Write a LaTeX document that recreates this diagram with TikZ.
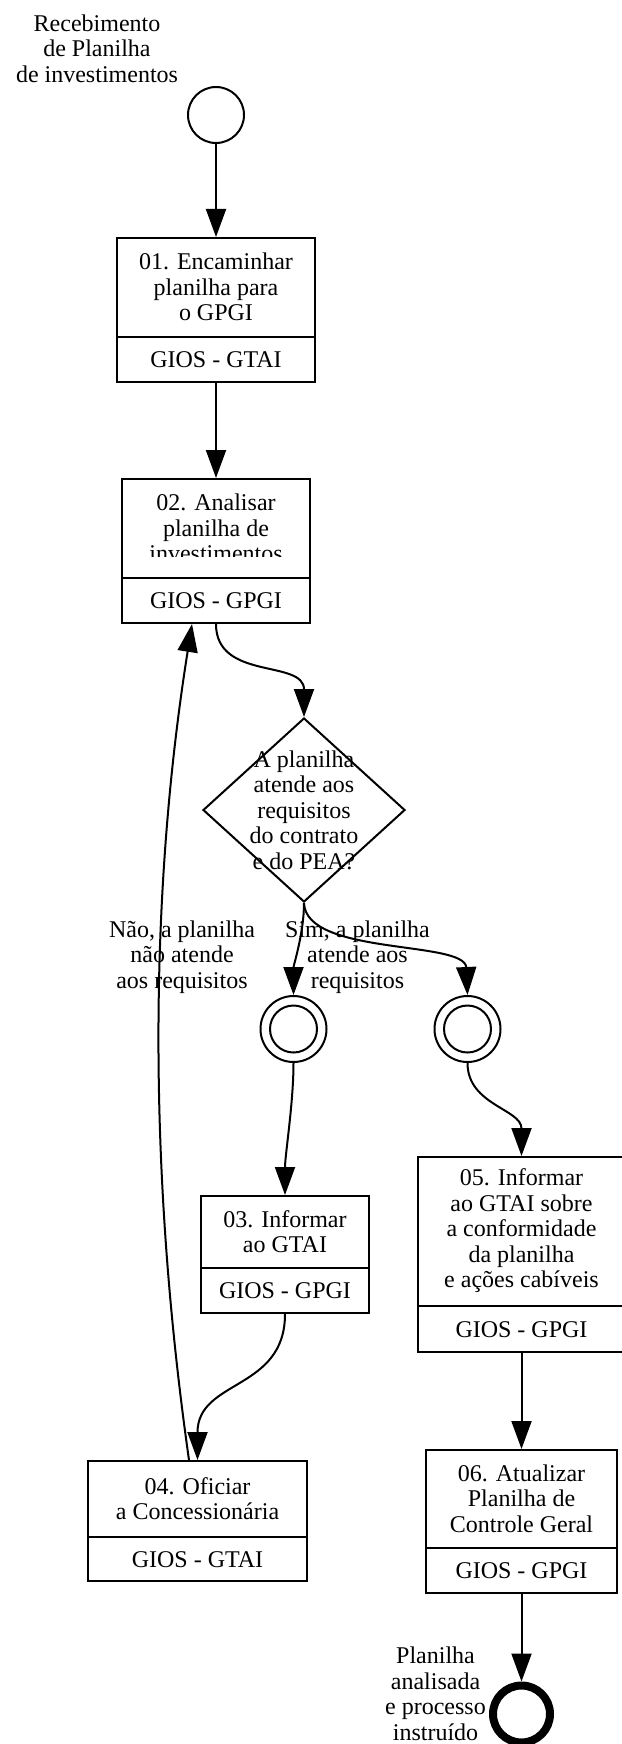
\documentclass[tikz,border=0pt]{standalone}
\usepackage{fontspec}
\setmainfont{Liberation Serif}
\usetikzlibrary{arrows.meta,calc,shapes.geometric}

\begin{document}
\begin{tikzpicture}[x=0.5pt,y=-0.5pt,
                    flow/.style={line width=1pt,-{Triangle[length=14pt,width=10pt]}},
                    taskbox/.style={draw,line width=1pt,inner sep=0pt},
                    txt/.style={align=center,inner sep=0pt}]
                    \useasboundingbox (0,0) rectangle (621,1744);
                    {\fontsize{12}{12.75}\selectfont

                    % Marking labels
                    \node [txt] (lblstart) at (97,48.5) {Recebimento\\de Planilha\\de investimentos};%
                    \node [txt] (lblnao) at (182,957) {Não, a planilha\\não atende\\aos requisitos};%
                    \node [txt] (lblsim) at (357.5,957) {Sim, a planilha\\atende aos\\requisitos};%
                    \node [txt] (lblend) at (435.5,1694) {Planilha\\analisada\\e processo\\instruído};%

                    % Drawing start event
                    \node [draw,circle,line width=1pt,minimum size=28pt,inner sep=0pt] (start) at (216,115) {};%

                    % Drawing task 01
                    \node [taskbox,minimum width=99pt,minimum height=72pt] (t01) at (216,310) {};%
                    \draw [line width=1pt] ([yshift=23pt]t01.south west) -- ([yshift=23pt]t01.south east);%
                    \node [txt] (t01n) at ($(t01.north)!0.5!([yshift=23pt]t01.south)$) {01. Encaminhar\\planilha para\\o GPGI};%
                    \node [txt] (t01l) at ([yshift=11.5pt]t01.south) {GIOS - GTAI};%

                    % Drawing task 02
                    \node [taskbox,minimum width=94pt,minimum height=72pt] (t02) at (216,551) {};%
                    \draw [line width=1pt] ([yshift=23pt]t02.south west) -- ([yshift=23pt]t02.south east);%
                    \begin{scope}
                    \clip (t02.north west) rectangle ([yshift=34pt]t02.south east);%
                    \node [txt] (t02n) at ($(t02.north)!0.5!([yshift=23pt]t02.south)$) {02. Analisar\\planilha de\\investimentos};%
                    \end{scope}
                    \node [txt] (t02l) at ([yshift=11.5pt]t02.south) {GIOS - GPGI};%

                    % Drawing gateway
                    \node [draw,diamond,line width=1pt,minimum width=101pt,minimum height=92pt,inner sep=0pt] (gw) at (304,810) {};%
                    \node [txt] (gwn) at (gw) {A planilha\\atende aos\\requisitos\\do contrato\\e do PEA?};%

                    % Drawing intermediate events
                    \node [draw,circle,line width=1pt,minimum size=33pt,inner sep=0pt] (ev1) at (293.5,1029) {};%
                    \draw [line width=1pt] (ev1) circle (11.75pt);%
                    \node [draw,circle,line width=1pt,minimum size=33pt,inner sep=0pt] (ev2) at (467.5,1029) {};%
                    \draw [line width=1pt] (ev2) circle (11.75pt);%

                    % Drawing task 03
                    \node [taskbox,minimum width=84pt,minimum height=58.5pt] (t03) at (285,1254.5) {};%
                    \draw [line width=1pt] ([yshift=23pt]t03.south west) -- ([yshift=23pt]t03.south east);%
                    \node [txt] (t03n) at ($(t03.north)!0.5!([yshift=23pt]t03.south)$) {03. Informar\\ao GTAI};%
                    \node [txt] (t03l) at ([yshift=11.5pt]t03.south) {GIOS - GPGI};%

                    % Drawing task 04
                    \node [taskbox,minimum width=109.5pt,minimum height=60pt] (t04) at (197.5,1521) {};%
                    \draw [line width=1pt] ([yshift=22.5pt]t04.south west) -- ([yshift=22.5pt]t04.south east);%
                    \node [txt] (t04n) at ($(t04.north)!0.5!([yshift=22.5pt]t04.south)$) {04. Oficiar\\a Concessionária};%
                    \node [txt] (t04l) at ([yshift=11.25pt]t04.south) {GIOS - GTAI};%

                    % Drawing task 05
                    \node [taskbox,minimum width=104pt,minimum height=97.5pt] (t05) at (521.5,1254.5) {};%
                    \draw [line width=1pt] ([yshift=23.5pt]t05.south west) -- ([yshift=23.5pt]t05.south east);%
                    \node [txt] (t05n) at ($(t05.north)!0.5!([yshift=23.5pt]t05.south)$) {05. Informar\\ao GTAI sobre\\a conformidade\\da planilha\\e ações cabíveis};%
                    \node [txt] (t05l) at ([yshift=11.75pt]t05.south) {GIOS - GPGI};%

                    % Drawing task 06
                    \node [taskbox,minimum width=95.5pt,minimum height=71.5pt] (t06) at (521.5,1521.5) {};%
                    \draw [line width=1pt] ([yshift=23pt]t06.south west) -- ([yshift=23pt]t06.south east);%
                    \node [txt] (t06n) at ($(t06.north)!0.5!([yshift=23pt]t06.south)$) {06. Atualizar\\Planilha de\\Controle Geral};%
                    \node [txt] (t06l) at ([yshift=11.5pt]t06.south) {GIOS - GPGI};%

                    % Drawing end event
                    \node [draw,circle,line width=4pt,minimum size=28.5pt,inner sep=0pt] (end) at (521.5,1714) {};%

                    % Drawing flows
                    \draw [flow] (start.south) -- (t01.north);%
                    \draw [flow] (t01.south) -- (t02.north);%
                    \draw [flow] (t02.south) .. controls +(0,57) and +(0,-58) .. (gw.north);%
                    \draw [flow] (gw.south) .. controls +(0,30) and +(0,-30) .. (ev1.north);%
                    \draw [flow] (gw.south) .. controls +(2,53) and +(-2.5,-55) .. (ev2.north);%
                    \draw [flow] (ev1.south) .. controls +(0,40) and +(0,-40) .. (t03.north);%
                    \draw [flow] (ev2.south) .. controls +(0,42) and +(0,-47) .. (t05.north);%
                    \draw [flow] (t03.south) .. controls +(0,77) and +(0,-81) .. (t04.north);%
                    \draw [flow] ([xshift=-4.25pt]t04.north) .. controls +(-40,-281) and +(-44,277) .. ([xshift=-12pt]t02.south);%
                    \draw [flow] (t05.south) -- (t06.north);%
                    \draw [flow] (t06.south) -- (end.north);%
                    }
\end{tikzpicture}
\end{document}
